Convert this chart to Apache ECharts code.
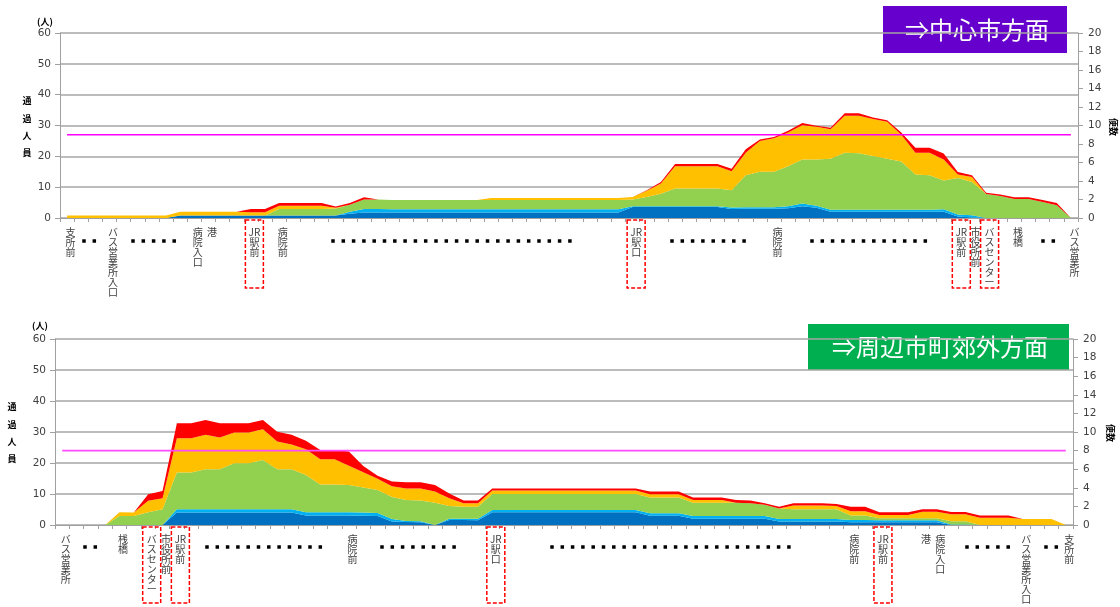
<!DOCTYPE html>
<html><head><meta charset="utf-8">
<script src="https://cdn.jsdelivr.net/npm/echarts@6/dist/echarts.min.js"></script>
<style>html,body{margin:0;padding:0;background:#fff}#c{width:1120px;height:607px}</style>
</head><body><div id="c"></div>
<script>
// ===== DATA =====
// Upper chart: ⇒中心市方面 (72 stops)
const topStopCount = 72;
const topStopNames = [[0,'支所前'],[3,'バス営業所入口'],[9,'病院入口'],[10,'港'],[13,'JR駅前'],[15,'病院前'],
  [40,'JR駅口'],[50,'病院前'],[63,'JR駅前'],[64,'市役所前'],[65,'バスセンター'],[67,'桟橋'],[71,'バス営業所']];
const topBoxed = [13,40,63,65];
const topDark = [0,0,0,0,0,0,0,0,0.8,0.8, 0.8,0.8,0.8,0.8,0.8,0.8,0.8,0.8,0.8,0.8,
  1.4,1.8,1.8,1.8,1.8,1.8,1.8,1.8,1.8,1.8, 1.8,1.8,1.8,1.8,1.8,1.8,1.8,1.8,1.8,1.8,
  3.6,3.6,3.6,3.6,3.6,3.6,3.6,2.9,3.0,3.0, 3.0,3.2,3.8,3.3,2.0,2.0,2.0,2.0,2.0,2.0,
  2.0,2.0,2.0,0.5,0.2,0,0,0,0,0, 0,0];
const topLight = [0,0,0,0,0,0,0,0,0,0, 0,0,0,0,0,0,0,0,0,0,
  0.6,1.1,1.1,1.0,1.0,1.0,1.0,1.0,1.0,1.0, 1.0,1.0,1.0,1.0,1.0,1.0,1.0,1.0,1.0,1.0,
  0.2,0.2,0.2,0.2,0.2,0.2,0.2,0.5,0.5,0.5, 0.5,0.6,0.9,0.7,0.7,0.7,0.7,0.7,0.7,0.7,
  0.7,0.7,0.8,0.6,0.7,0,0,0,0,0, 0,0];
const topGreen = [0,0,0,0,0,0,0,0,0,0, 0,0,0,0,0,2.1,2.1,2.1,2.1,2.3,
  2.3,3.1,3.1,3.0,3.0,3.0,3.0,3.0,3.0,3.0, 3.0,3.0,3.0,3.0,3.0,3.0,3.0,3.0,3.0,3.0,
  2.2,3.0,4.1,5.8,5.8,5.8,5.8,5.6,10.4,11.5, 11.5,13.0,14.3,15.0,16.5,18.5,18.3,17.4,16.5,15.6,
  11.4,11.2,9.4,11.9,10.8,7.8,7.1,6.2,6.2,5.2, 4.1,0];
const topYellow = [0.8,0.8,0.8,0.8,0.8,0.8,0.8,0.8,1.2,1.2, 1.2,1.2,1.2,1.1,1.1,1.1,1.1,1.1,1.1,0.2,
  0,0,0,0,0,0,0,0,0,0, 0.7,0.7,0.7,0.7,0.7,0.7,0.7,0.7,0.7,0.7,
  0.8,2.0,3.3,7.2,7.2,7.2,7.2,6.2,7.3,10.0, 10.9,10.9,11.1,10.6,9.6,12.0,12.2,12.0,12.0,8.7,
  7.1,7.3,6.8,1.1,1.6,0,0,0,0,0, 0,0];
const topRed = [0,0,0,0,0,0,0,0,0,0, 0,0,0,1.0,1.0,0.9,0.9,0.9,0.9,0.4,
  0.6,0.7,0,0,0,0,0,0,0,0, 0,0,0,0,0,0,0,0,0,0,
  0,0.2,0.5,0.7,0.7,0.7,0.7,0.8,1.1,0.5, 0.4,0.6,0.7,0.3,0.5,0.8,0.8,0.5,0.5,0.7,
  1.6,1.6,1.9,0.8,0.6,0.4,0.5,0.5,0.5,0.6, 0.8,0];
const topTripsLevel = 9;

// Lower chart: ⇒周辺市町郊外方面 (71 stops)
const botStopCount = 71;
const botStopNames = [[0,'バス営業所'],[4,'桟橋'],[6,'バスセンター'],[7,'市役所前'],[8,'JR駅前'],[20,'病院前'],
  [30,'JR駅口'],[55,'病院前'],[57,'JR駅前'],[60,'港'],[61,'病院入口'],[67,'バス営業所入口'],[70,'支所前']];
const botBoxed = [6,8,30,57];
const botDark = [0,0,0,0,0,0,0,0,4.0,4.0, 4.0,4.0,4.0,4.0,4.0,4.0,4.0,3.1,3.1,3.1,
  3.1,3.0,2.9,1.1,1.0,0.9,0,1.6,1.6,1.5, 4.1,4.1,4.1,4.1,4.1,4.1,4.1,4.1,4.1,4.1,
  4.1,3.0,3.0,3.0,2.0,2.0,2.0,2.0,2.0,2.0, 1.1,1.1,1.1,1.1,1.1,0.9,0.9,0.9,0.9,0.9,
  0.9,0.9,0,0,0,0,0,0,0,0, 0];
const botLight = [0,0,0,0,0,0,0,0,1.1,1.1, 1.1,1.1,1.1,1.1,1.1,1.1,1.1,1.0,1.0,1.0,
  1.0,1.0,1.0,0.8,0.3,0.3,0,0.4,0.4,0.5, 0.7,0.7,0.7,0.7,0.7,0.7,0.7,0.7,0.7,0.7,
  0.7,0.8,0.8,0.8,0.9,0.9,0.9,0.9,0.9,0.9, 0.8,0.8,0.8,0.8,0.8,0.7,0.7,0.6,0.6,0.6,
  0.6,0.6,0.2,0.2,0,0,0,0,0,0, 0];
const botGreen = [0,0,0,0,2.9,2.9,4.1,5.1,11.8,11.8, 12.9,12.9,14.8,14.8,15.9,12.9,12.9,12.0,9.0,9.0,
  8.8,8.1,7.4,7.1,6.8,6.7,7.2,4.1,3.9,3.9, 5.2,5.2,5.2,5.2,5.2,5.2,5.2,5.2,5.2,5.2,
  5.2,5.1,5.1,5.1,4.3,4.3,4.3,4.3,4.1,3.6, 3.4,3.2,3.2,3.2,3.2,1.5,1.5,0.7,0.7,0.7,
  0.7,0.7,1.0,1.0,0,0,0,0,0,0, 0];
const botYellow = [0,0,0,0,1.2,1.1,3.7,3.5,11.1,11.1, 11.1,10.2,9.9,9.9,9.9,8.9,8.0,8.3,8.1,8.1,
  6.2,4.9,3.6,3.5,3.7,3.9,3.6,2.5,1.1,1.1, 1.1,1.1,1.1,1.1,1.1,1.1,1.1,1.1,1.1,1.1,
  1.1,1.0,1.0,1.0,0.9,0.9,0.9,0,0,0, 0,1.2,1.2,1.2,1.0,1.3,1.3,1.0,1.0,1.0,
  2.1,2.1,2.3,2.3,2.3,2.3,2.3,1.9,1.9,1.9, 0];
const botRed = [0,0,0,0,0,0,2.1,2.4,4.8,4.8, 4.8,4.6,3.0,3.0,3.0,3.2,3.1,2.8,3.0,3.0,
  4.6,2.0,1.0,1.5,2.0,2.0,2.1,1.6,0.9,0.9, 0.7,0.7,0.7,0.7,0.7,0.7,0.7,0.7,0.7,0.7,
  0.7,0.9,0.9,0.9,0.8,0.8,0.8,0.9,0.9,0.5, 0.6,0.7,0.7,0.7,0.7,1.5,1.5,0.9,0.9,0.9,
  0.8,0.8,0.7,0.7,0.8,0.8,0.8,0,0,0, 0];
const botTripsLevel = 8;

const leftTicks = {min:0, max:60, interval:10};
const rightTicks = {min:0, max:20, interval:2};

// ===== STYLE / LAYOUT =====
const COLORS = {dark:'#0070C0', light:'#00B0F0', green:'#92D050', yellow:'#FFC000', red:'#FF0000'};
const JP = '"Noto Sans CJK JP", sans-serif';
const NUM = '"DejaVu Sans", sans-serif';
const AX = '#A0A0A0';

function buildCats(count, names){
  const map = {}; names.forEach(([i,n]) => map[i] = n);
  const out = [];
  for (let i = 0; i < count; i++) out.push(map[i] || '');
  return out;
}
const vert = v => v ? v.match(/JR|./g).join('\n') : '';

function xAxisCfg(gi, cats){
  return {gridIndex:gi, type:'category', boundaryGap:true, data:cats,
    axisLine:{lineStyle:{color:AX, width:1}},
    axisTick:{show:true, interval:0, length:4, lineStyle:{color:AX}},
    axisLabel:{interval:0, margin:2, padding:[7,0,0,7], fontSize:10, lineHeight:10,
      color:'#404040', fontFamily:JP, formatter:vert, hideOverlap:false},
    splitLine:{show:false}};
}
function yLeft(gi){
  return Object.assign({gridIndex:gi, type:'value', position:'left',
    axisLine:{show:true, lineStyle:{color:AX}},
    axisTick:{show:true, length:5, lineStyle:{color:AX}},
    axisLabel:{margin:9, fontSize:10.5, color:'#404040', fontFamily:NUM},
    splitLine:{show:true, lineStyle:{color:'#A6A6A6', width:1.5}}}, leftTicks);
}
function yRight(gi){
  return Object.assign({gridIndex:gi, type:'value', position:'right',
    axisLine:{show:true, lineStyle:{color:AX}},
    axisTick:{show:true, length:5, lineStyle:{color:AX}},
    axisLabel:{margin:10, fontSize:10.5, color:'#404040', fontFamily:NUM},
    splitLine:{show:false}}, rightTicks);
}
function areaSeries(gi, layers, stackId){
  const keys = ['dark','light','green','yellow','red'];
  return layers.map((d, k) => ({
    type:'line', xAxisIndex:gi, yAxisIndex:gi*2, stack:stackId, data:d,
    symbol:'none', lineStyle:{width:0}, areaStyle:{color:COLORS[keys[k]], opacity:1},
    itemStyle:{color:COLORS[keys[k]]}, z:2, silent:true
  }));
}
function tripsLine(gi, level, count, color){
  return {type:'line', xAxisIndex:gi, yAxisIndex:gi*2+1, data:[[0,level],[count-1,level]],
    symbol:'none', lineStyle:{color:color, width:1.6}, z:5, silent:true};
}
// dashed red frames around highlighted stop names, placed on the category axis
function boxSeries(gi, boxed, h){
  return {type:'custom', xAxisIndex:gi, yAxisIndex:gi*2, data:boxed.map(i => [i]),
    clip:false, silent:true, z:10,
    renderItem:(params, api) => {
      const p = api.coord([api.value(0), 0]);
      return {type:'rect', shape:{x:p[0] + 3.5 - 9, y:p[1] + 2, width:18, height:h},
        style:{fill:'none', stroke:'#FF0000', lineWidth:1.5, lineDash:[4,2]}};
    }};
}

const topCats = buildCats(topStopCount, topStopNames);
const botCats = buildCats(botStopCount, botStopNames);

// decorative dot runs ("・・・" skipped-stop markers): [startX, count]
const dotRunsTop = [[84,2],[133,5],[333,24],[672,8],[812,12],[1043,2]];
const dotRunsBot = [[85,2],[207,12],[382,8],[552,24],[967,5],[1046,2]];
const graphics = [];
function addDots(runs, y){
  runs.forEach(([x0,n]) => { for (let k=0;k<n;k++) graphics.push({type:'rect', silent:true,
    shape:{x:x0 + k*10.3 - 1.75, y:y-1.75, width:3.5, height:3.5}, style:{fill:'#000'}}); });
}
addDots(dotRunsTop, 241);
addDots(dotRunsBot, 547);
function txt(x,y,text,extra){ return {type:'text', x:x, y:y, silent:true,
  style:Object.assign({text:text, fill:'#000', align:'center', verticalAlign:'middle',
    fontFamily:JP, fontSize:9, fontWeight:'bold'}, extra||{})}; }
// title boxes
graphics.push({type:'rect', shape:{x:883,y:6,width:184,height:47}, style:{fill:'#6600CC'}, silent:true});
graphics.push(txt(977,30,'⇒中心市方面',{fill:'#fff', fontSize:24, fontWeight:'normal'}));
graphics.push({type:'rect', shape:{x:808,y:324,width:261,height:46}, style:{fill:'#00B050'}, silent:true});
graphics.push(txt(940,347,'⇒周辺市町郊外方面',{fill:'#fff', fontSize:24, fontWeight:'normal'}));
// axis titles
graphics.push(txt(45,22,'(人)'));
graphics.push(txt(40,326,'(人)'));
graphics.push(txt(27,101,'通\n過\n人\n員',{verticalAlign:'top', lineHeight:17.3, y:-8.6}));
graphics.push(txt(12,407,'通\n過\n人\n員',{verticalAlign:'top', lineHeight:17.3, y:-8.6}));
const r1 = txt(1113,127,'便数'); r1.rotation = -Math.PI/2; graphics.push(r1);
const r2 = txt(1110,433,'便数'); r2.rotation = -Math.PI/2; graphics.push(r2);

const option = {
  animation:false,
  backgroundColor:'#fff',
  grid:[{left:60, top:33, width:1018, height:185},
        {left:55, top:339, width:1018, height:186}],
  xAxis:[xAxisCfg(0, topCats), xAxisCfg(1, botCats)],
  yAxis:[yLeft(0), yRight(0), yLeft(1), yRight(1)],
  series:[
    ...areaSeries(0, [topDark, topLight, topGreen, topYellow, topRed], 'top'),
    tripsLine(0, topTripsLevel, topStopCount, '#FF00FF'),
    boxSeries(0, topBoxed, 68),
    ...areaSeries(1, [botDark, botLight, botGreen, botYellow, botRed], 'bot'),
    tripsLine(1, botTripsLevel, botStopCount, '#FF4CFF'),
    boxSeries(1, botBoxed, 76)
  ],
  graphic: graphics
};
const chart = echarts.init(document.getElementById('c'));
chart.setOption(option);
</script></body></html>
